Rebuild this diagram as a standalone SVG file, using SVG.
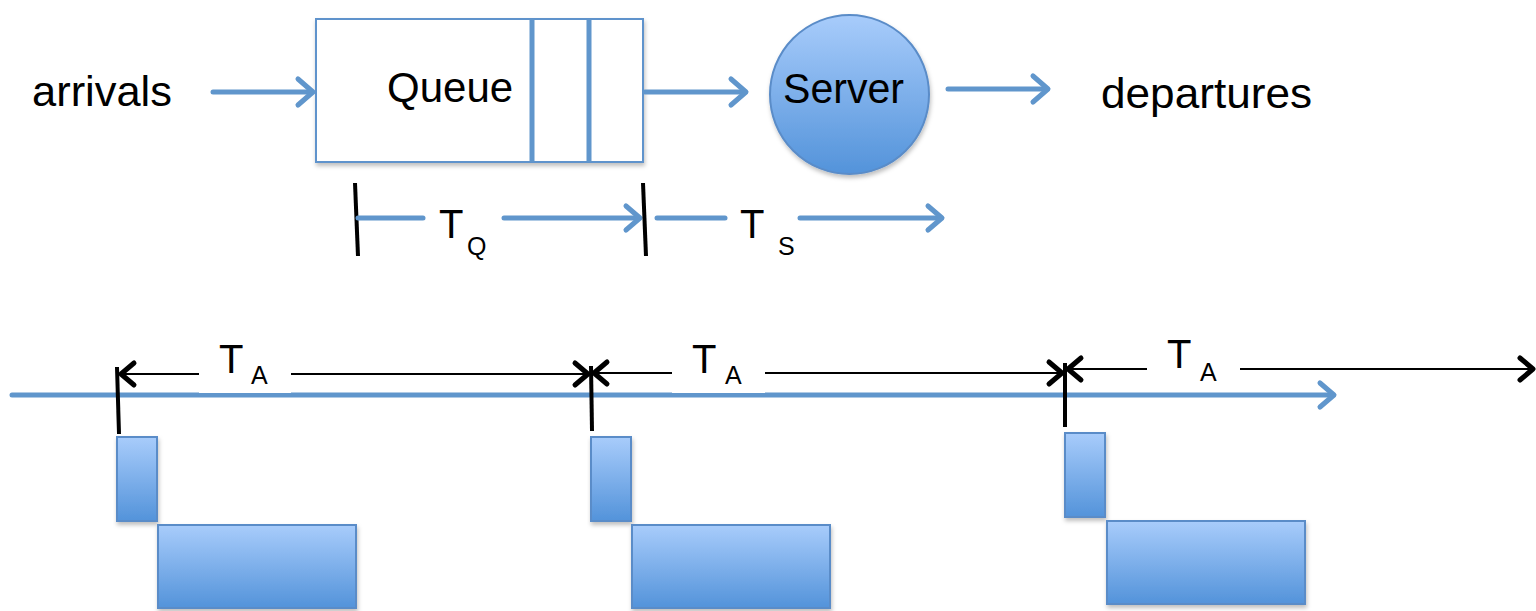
<svg xmlns="http://www.w3.org/2000/svg" width="1536" height="611" viewBox="0 0 1536 611">
<style>
  text { font-family: "Liberation Sans", Arial, sans-serif; fill: #000; }
  .big { font-size: 42px; }
  .t { font-size: 40px; }
  .sub { font-size: 25px; }
  .blue { stroke: #6096CC; stroke-width: 5; fill: none; stroke-linecap: round; }
  .tick { stroke: #000; stroke-width: 4; fill: none; }
  .thin { stroke: #000; stroke-width: 2; fill: none; }
  .head { stroke: #000; stroke-width: 5; fill: none; stroke-linecap: round; stroke-linejoin: round; }
  .bhead { stroke: #6096CC; stroke-width: 5; fill: none; stroke-linecap: round; stroke-linejoin: round; }
  .blk { fill: url(#g); stroke: #5A8CC8; stroke-width: 2; filter: url(#sh); }
</style>
<defs>
  <linearGradient id="g" x1="0" y1="0" x2="0" y2="1">
    <stop offset="0" stop-color="#A8CCFB"/>
    <stop offset="1" stop-color="#5393DA"/>
  </linearGradient>
  <filter id="sh" x="-10%" y="-10%" width="130%" height="130%">
    <feDropShadow dx="1" dy="3" stdDeviation="2" flood-color="#000" flood-opacity="0.25"/>
  </filter>
</defs>

<g id="arrivals"><text class="big" x="32" y="106" textLength="140" lengthAdjust="spacingAndGlyphs">arrivals</text></g>

<g id="queue">
  <rect x="316" y="19" width="327" height="143" fill="#fff" stroke="#5E93CC" stroke-width="2" filter="url(#sh)"/>
  <line x1="532" y1="19" x2="532" y2="162" stroke="#6096CC" stroke-width="5"/>
  <line x1="589" y1="19" x2="589" y2="162" stroke="#6096CC" stroke-width="5"/>
  <text class="big" x="387" y="102">Queue</text>
</g>

<g id="server">
  <circle cx="849.5" cy="94.5" r="79.5" fill="url(#g)" stroke="#5A8CC8" stroke-width="2" filter="url(#sh)"/>
  <text class="big" x="783" y="103" textLength="121" lengthAdjust="spacingAndGlyphs">Server</text>
</g>

<g id="departures"><text class="big" x="1101" y="108" textLength="211" lengthAdjust="spacingAndGlyphs">departures</text></g>

<g id="connectors">
  <line class="blue" x1="213" y1="92" x2="312" y2="92"/>
  <polyline class="bhead" points="298,79 313,92 298,105"/>
  <line class="blue" x1="645" y1="92" x2="745" y2="92"/>
  <polyline class="bhead" points="731,79 746,92 731,105"/>
  <line class="blue" x1="948" y1="89" x2="1047" y2="89"/>
  <polyline class="bhead" points="1033,76 1048,89 1033,102"/>
</g>

<g id="tq">
  <line class="tick" x1="355" y1="183" x2="358" y2="256"/>
  <line class="blue" x1="358" y1="218" x2="423" y2="218" stroke-linecap="butt"/>
  <line class="blue" x1="504" y1="218" x2="639" y2="218"/>
  <polyline class="bhead" points="626,206 640,218 626,230"/>
  <text class="t" x="439" y="238">T</text>
  <text class="sub" x="467" y="255">Q</text>
</g>

<g id="ts">
  <line class="tick" x1="643" y1="183" x2="646" y2="256"/>
  <line class="blue" x1="657" y1="218" x2="725" y2="218" stroke-linecap="butt"/>
  <line class="blue" x1="800" y1="218" x2="941" y2="218"/>
  <polyline class="bhead" points="928,206 942,218 928,230"/>
  <text class="t" x="740" y="238">T</text>
  <text class="sub" x="778" y="255">S</text>
</g>

<g id="timeline">
  <line class="blue" x1="12" y1="395" x2="1333" y2="395"/>
  <polyline class="bhead" points="1320,383 1334,395 1320,407"/>
</g>

<g id="ta1">
  <line class="thin" x1="120" y1="374" x2="589" y2="374"/>
  <polyline class="head" points="134,363 121,374 134,385"/>
  <polyline class="head" points="575,363 588,374 575,385"/>
  <rect x="199" y="348" width="92" height="45" fill="#fff"/>
  <text class="t" x="219" y="373">T</text>
  <text class="sub" x="251" y="384">A</text>
  <line class="tick" x1="117" y1="367" x2="119" y2="434"/>
</g>

<g id="ta2">
  <line class="thin" x1="593" y1="373" x2="1063" y2="373"/>
  <polyline class="head" points="607,362 594,373 607,384"/>
  <polyline class="head" points="1049,362 1062,373 1049,384"/>
  <rect x="672" y="348" width="93" height="45" fill="#fff"/>
  <text class="t" x="692" y="373">T</text>
  <text class="sub" x="725" y="384">A</text>
  <line class="tick" x1="591" y1="366" x2="592" y2="431"/>
</g>

<g id="ta3">
  <line class="thin" x1="1067" y1="369" x2="1533" y2="369"/>
  <polyline class="head" points="1081,358 1068,369 1081,380"/>
  <polyline class="head" points="1520,358 1533,369 1520,380"/>
  <rect x="1147" y="344" width="93" height="45" fill="#fff"/>
  <text class="t" x="1167" y="368">T</text>
  <text class="sub" x="1200" y="381">A</text>
  <line class="tick" x1="1065" y1="363" x2="1065" y2="427"/>
</g>

<g id="jobs1">
  <rect class="blk" x="117" y="437" width="40" height="84"/>
  <rect class="blk" x="158" y="525" width="198" height="83"/>
</g>
<g id="jobs2">
  <rect class="blk" x="591" y="437" width="40" height="84"/>
  <rect class="blk" x="632" y="525" width="198" height="83"/>
</g>
<g id="jobs3">
  <rect class="blk" x="1065" y="433" width="40" height="84"/>
  <rect class="blk" x="1107" y="521" width="198" height="83"/>
</g>
</svg>
